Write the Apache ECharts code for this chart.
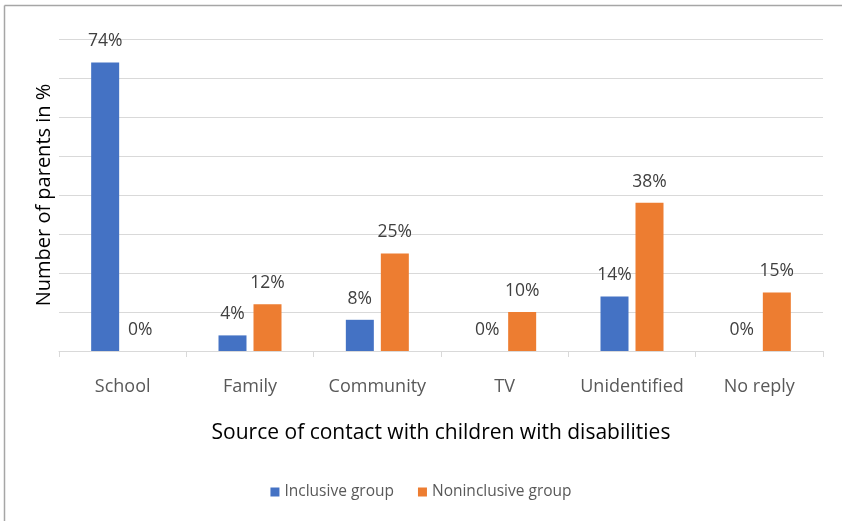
<!DOCTYPE html>
<html>
<head>
<meta charset="utf-8">
<script src="https://cdn.jsdelivr.net/npm/echarts@6/dist/echarts.min.js"></script>
<style>
  html, body { margin: 0; padding: 0; background: #fff; }
  #chart { width: 842px; height: 521px; }
</style>
</head>
<body>
<div id="chart"></div>
<script>
// Source categories and shares of parents (%) for each group
const categories = ['School', 'Family', 'Community', 'TV', 'Unidentified', 'No reply'];
const inclusiveGroup = [74, 4, 8, 0, 14, 0];
const noninclusiveGroup = [0, 12, 25, 10, 38, 15];
const seriesNames = ['Inclusive group', 'Noninclusive group'];

const FONT = '"Open Sans", sans-serif';
const chart = echarts.init(document.getElementById('chart'), null, { renderer: 'canvas' });

const labelCfg = {
  show: true,
  position: 'top',
  distance: 12,
  formatter: p => p.value + '%',
  color: '#404040',
  fontSize: 17.5,
  fontFamily: FONT
};

// Frame edges along the top and left of the chart area
const frameStyle = { stroke: '#a6a6a6', lineWidth: 1.5 };

chart.setOption({
  animation: false,
  backgroundColor: '#fff',
  graphic: [
    { type: 'line', shape: { x1: 4.5, y1: 5.5, x2: 842, y2: 5.5 }, style: frameStyle, silent: true },
    { type: 'line', shape: { x1: 4.5, y1: 5.5, x2: 4.5, y2: 521 }, style: frameStyle, silent: true }
  ],
  grid: { left: 59, right: 19, top: 39, bottom: 170 },
  legend: {
    data: seriesNames,
    bottom: 16,
    left: 'center',
    itemWidth: 9,
    itemHeight: 9,
    itemGap: 24,
    icon: 'rect',
    textStyle: { color: '#595959', fontSize: 15.5, fontFamily: FONT }
  },
  xAxis: {
    type: 'category',
    data: categories,
    name: 'Source of contact with children with disabilities',
    nameLocation: 'middle',
    nameGap: 72,
    nameTextStyle: { color: '#000', fontSize: 21, fontFamily: FONT },
    axisLine: { lineStyle: { color: '#d9d9d9', width: 1 } },
    axisTick: { show: true, interval: 0, length: 6, lineStyle: { color: '#d9d9d9' } },
    axisLabel: { interval: 0, hideOverlap: false, color: '#595959', fontSize: 18, fontFamily: FONT, margin: 27 }
  },
  yAxis: {
    type: 'value',
    min: 0,
    max: 80,
    interval: 10,
    name: 'Number of parents in %',
    nameLocation: 'middle',
    nameGap: 5,
    nameTextStyle: { color: '#000', fontSize: 20, fontFamily: FONT },
    axisLabel: { show: false },
    axisLine: { show: false },
    axisTick: { show: false },
    splitLine: { lineStyle: { color: '#d9d9d9', width: 1 } }
  },
  series: [
    {
      name: seriesNames[0],
      type: 'bar',
      data: inclusiveGroup,
      barWidth: 28,
      barGap: '25%',
      itemStyle: { color: '#4472c4' },
      label: labelCfg
    },
    {
      name: seriesNames[1],
      type: 'bar',
      data: noninclusiveGroup,
      barWidth: 28,
      itemStyle: { color: '#ed7d31' },
      label: labelCfg
    }
  ]
});
</script>
</body>
</html>
